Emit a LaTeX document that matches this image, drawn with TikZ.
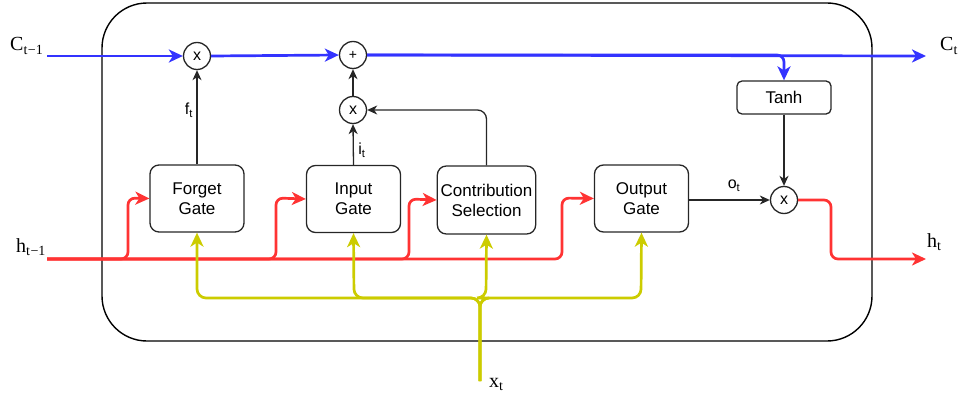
\documentclass[tikz,border=0pt]{standalone}
\usepackage{fontspec}
\setmainfont{Liberation Serif}
\setsansfont{Liberation Sans}
\usetikzlibrary{arrows.meta}
\definecolor{cblue}{RGB}{51,51,255}
\definecolor{cred}{RGB}{255,51,51}
\definecolor{cyel}{RGB}{204,204,0}
\tikzset{
  gatebox/.style={draw=black!85, line width=1.3pt, rounded corners=9pt, minimum width=94pt, minimum height=67pt, align=center, font=\sffamily\fontsize{17}{20}\selectfont},
  opcirc/.style={draw=black!85, line width=1.3pt, circle, minimum size=27pt, inner sep=0pt, font=\sffamily\fontsize{16}{16}\selectfont},
  bk/.style={draw=black!85, line width=1.3pt, -{Stealth[length=10pt,width=9pt,inset=3pt]}},
  bl/.style={draw=cblue, line width=2.7pt, -{Stealth[length=14pt,width=13pt,inset=4pt]}},
  rd/.style={draw=cred, line width=2.7pt, rounded corners=7pt, -{Stealth[length=14pt,width=13pt,inset=4pt]}},
  yl/.style={draw=cyel, line width=2.7pt, rounded corners=9pt, -{Stealth[length=14pt,width=13pt,inset=4pt]}},
  vlab/.style={font=\fontsize{20}{20}\selectfont, inner sep=0pt},
  slab/.style={font=\sffamily\fontsize{16}{16}\selectfont, inner sep=0pt}
}
\begin{document}
\begin{tikzpicture}[x=1pt,y=-1pt]
\useasboundingbox (0,0) rectangle (964,396);
% cell
\draw[line width=1.4pt, rounded corners=45pt] (102,3) rectangle (872,341);
% nodes
\node[opcirc] (m1) at (197,56) {x};
\node[opcirc] (pl) at (353,55) {\fontsize{14}{14}\selectfont +};
\node[opcirc] (m2) at (353,110) {x};
\node[opcirc] (m3) at (784,200) {x};
\node[gatebox] (fg) at (197,198.5) {Forget\\Gate};
\node[gatebox] (ig) at (353.5,199) {Input\\Gate};
\node[gatebox, minimum height=68pt] (cs) at (486.5,200) {Contribution\\Selection};
\node[gatebox] (og) at (641.5,198.5) {Output\\Gate};
\node[draw=black!85, line width=1.3pt, rounded corners=5pt, minimum width=94pt, minimum height=33pt, font=\sffamily\fontsize{17}{17}\selectfont] (th) at (784,97.5) {Tanh};
% labels
\node[vlab, anchor=base west] (lc0) at (10,51) {C\textsubscript{t\kern0.5pt−1}};
\node[vlab, anchor=base west] (lc1) at (940,51) {C\textsubscript{t}};
\node[vlab, anchor=base west] (lh0) at (16,252) {h\textsubscript{t\kern0.5pt−1}};
\node[vlab, anchor=base west] (lh1) at (927,247) {h\textsubscript{t}};
\node[vlab, anchor=base west] (lx) at (489,387) {x\textsubscript{t}};
\node[slab] (lf) at (189,110) {f\textsubscript{t}};
\node[slab] (li) at (362,150) {i\textsubscript{t}};
\node[slab] (lo) at (734,186) {o\textsubscript{t}};
% coordinates
\coordinate (cin) at (47,56);
\coordinate (cout) at (926,56);
\coordinate (hin) at (47,259);
\coordinate (hout) at (926,259);
\coordinate (xin) at (480,381);
% blue cell state
\draw[bl] (cin) -- (m1.west);
\draw[bl] (m1.east) -- (pl.west);
\draw[bl] (pl.east) -- (cout);
\draw[bl, rounded corners=7pt] (pl.east) -| (th.north);
% black
\draw[bk] (fg.north) -- (m1.south);
\draw[bk] (ig.north) -- (m2.south);
\draw[bk] (m2.north) -- (pl.south);
\draw[bk, rounded corners=9pt] (cs.north) |- (m2.east);
\draw[bk] (og.east |- m3.west) -- (m3.west);
\draw[bk] (th.south) -- (m3.north);
% red hidden state
\draw[rd] (hin) -- (128,259) -- (128,198) -- (fg.west);
\draw[rd] (hin) -- (276,259) -- (276,198) -- (ig.west);
\draw[rd] (hin) -- (409,259) -- (409,199) -- (cs.west);
\draw[rd] (hin) -- (562,259) -- (562,198) -- (og.west);
\draw[rd] (m3.east) -- (831,200) -- (831,259) -- (hout);
% yellow input
\draw[yl] (xin) -- (480,298) -- (197,298) -- (fg.south);
\draw[yl] (xin) -- (480,298) -- (641,298) -- (og.south);
\draw[yl] (xin) -- (480,298) -- (354,298) -- (ig.south);
\draw[yl] (xin) -- (480,298) -- (486,298) -- (cs.south);
\end{tikzpicture}
\end{document}
